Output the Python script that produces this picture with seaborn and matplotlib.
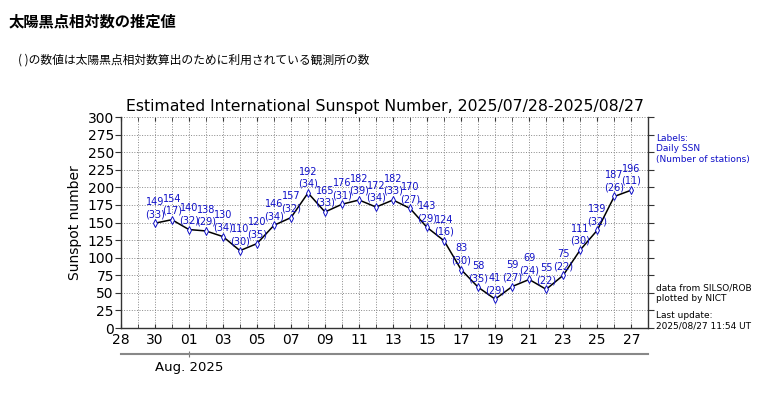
import matplotlib
matplotlib.use("Agg")
import matplotlib.pyplot as plt
import matplotlib.dates as mdates
import seaborn as sns
import pandas as pd
import numpy as np

dates = ["2025-07-30", "2025-07-31", "2025-08-01", "2025-08-02", "2025-08-03",
         "2025-08-04", "2025-08-05", "2025-08-06", "2025-08-07", "2025-08-08",
         "2025-08-09", "2025-08-10", "2025-08-11", "2025-08-12", "2025-08-13",
         "2025-08-14", "2025-08-15", "2025-08-16", "2025-08-17", "2025-08-18",
         "2025-08-19", "2025-08-20", "2025-08-21", "2025-08-22", "2025-08-23",
         "2025-08-24", "2025-08-25", "2025-08-26", "2025-08-27"]
ssn = [149, 154, 140, 138, 130, 110, 120, 146, 157, 192, 165, 176, 182, 172, 182,
       170, 143, 124, 83, 58, 41, 59, 69, 55, 75, 111, 139, 187, 196]
stations = [33, 17, 32, 29, 34, 30, 35, 34, 32, 34, 33, 31, 39, 34, 33,
            27, 29, 16, 30, 35, 29, 27, 24, 22, 22, 30, 32, 26, 11]

title = "Estimated International Sunspot Number, 2025/07/28-2025/08/27"
header = "太陽黒点相対数の推定値"
subheader = "( )の数値は太陽黒点相対数算出のために利用されている観測所の数"

sns.set_style("white")
plt.rcParams['font.family'] = ['DejaVu Sans', 'Noto Sans CJK JP']
plt.rcParams['text.color'] = 'black'
plt.rcParams['axes.labelcolor'] = 'black'
plt.rcParams['xtick.color'] = 'black'
plt.rcParams['ytick.color'] = 'black'

df = pd.DataFrame({"date": pd.to_datetime(dates), "ssn": ssn, "st": stations})

fig = plt.figure(figsize=(7.6, 3.94), dpi=100)
ax = fig.add_axes([0.159, 0.1675, 0.694, 0.5355])

blue = "#1010c8"
sns.lineplot(data=df, x="date", y="ssn", ax=ax, color="black", linewidth=1.1,
             marker="d", markersize=4.2, markerfacecolor="white",
             markeredgecolor=blue, markeredgewidth=0.7)

for d, v, s in zip(df["date"], df["ssn"], df["st"]):
    ax.annotate(f"{v}\n({s})", (d, v), xytext=(0, 3), textcoords="offset points",
                ha="center", va="bottom", fontsize=7, color=blue, linespacing=1.25)

ax.set_xlim(pd.Timestamp("2025-07-28"), pd.Timestamp("2025-08-28"))
ax.set_ylim(0, 300)
ax.set_yticks(np.arange(0, 301, 25))
ax.xaxis.set_major_locator(mdates.DayLocator(interval=2))
ax.xaxis.set_minor_locator(mdates.DayLocator())
ax.xaxis.set_major_formatter(mdates.DateFormatter("%d"))
ax.grid(True, which="both", axis="x", linestyle=":", color="#888888", linewidth=0.7)
ax.grid(True, which="major", axis="y", linestyle=":", color="#888888", linewidth=0.7)

ax.tick_params(axis="x", which="both", direction="in", top=True, bottom=True,
               labelsize=10, length=3, color="#333333")
ax.tick_params(axis="y", which="both", direction="out", left=True, right=True,
               labelsize=10, length=4, color="#333333", pad=1)
ax.set_xlabel("")
ax.set_ylabel("Sunspot number", fontsize=10)
ax.set_title(title, fontsize=11.3, pad=4)
for side in ["left", "right", "bottom"]:
    ax.spines[side].set_color("#333333")
    ax.spines[side].set_linewidth(1.0)
ax.spines["top"].set_visible(False)

sec = ax.secondary_xaxis(-0.125)
sec.set_xticks([mdates.date2num(pd.Timestamp("2025-08-01"))])
sec.set_xticklabels(["Aug. 2025"])
sec.tick_params(direction="inout", length=5, labelsize=9.5, color="#777777", pad=2)
sec.spines["bottom"].set_color("#888888")
sec.spines["bottom"].set_linewidth(1.5)

fig.text(0.863, 0.66, "Labels:\nDaily SSN\n(Number of stations)", color=blue,
         fontsize=6.5, va="top", ha="left", linespacing=1.2)
fig.text(0.863, 0.28, "data from SILSO/ROB\nplotted by NICT", color="black",
         fontsize=6.5, va="top", ha="left", linespacing=1.2)
fig.text(0.863, 0.21, "Last update:\n2025/08/27 11:54 UT", color="black",
         fontsize=6.5, va="top", ha="left", linespacing=1.2)

fig.text(0.012, 0.945, header, fontsize=11, fontweight="bold",
         family=["Noto Sans CJK JP", "DejaVu Sans"], va="center", ha="left")
fig.text(0.024, 0.847, subheader, fontsize=8.5,
         family=["Noto Sans CJK JP", "DejaVu Sans"], va="center", ha="left")

fig.savefig("out.png", dpi=100)
